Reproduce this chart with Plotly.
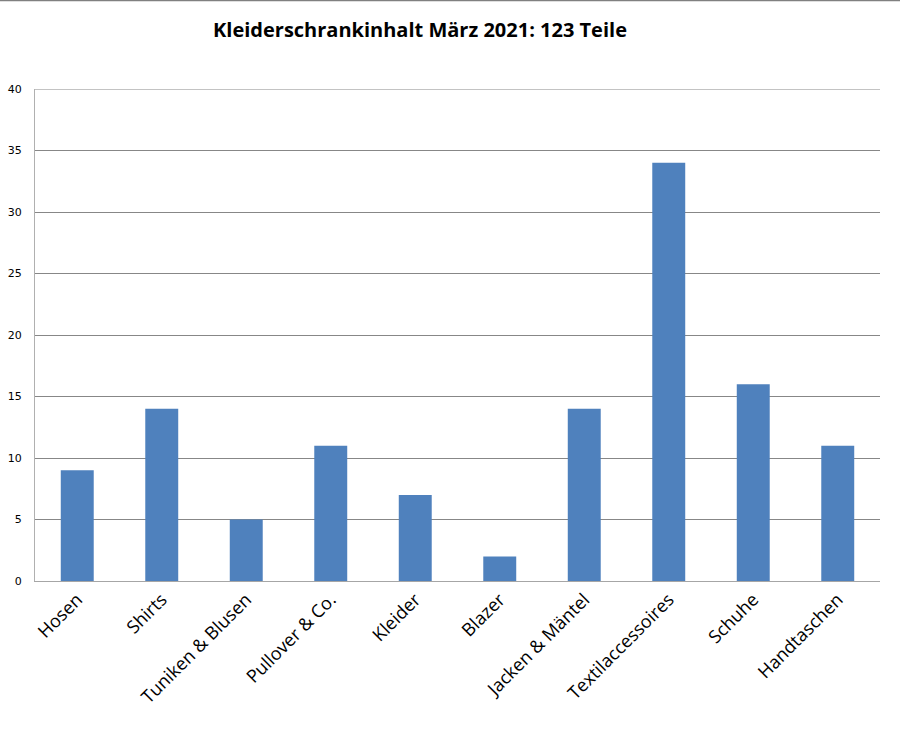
import plotly.graph_objects as go

categories = ["Hosen", "Shirts", "Tuniken & Blusen", "Pullover & Co.", "Kleider",
              "Blazer", "Jacken & Mäntel", "Textilaccessoires", "Schuhe", "Handtaschen"]
values = [9, 14, 5, 11, 7, 2, 14, 34, 16, 11]
y_ticks = [0, 5, 10, 15, 20, 25, 30, 35, 40]
y_max = 40

fig = go.Figure(go.Bar(x=categories, y=values, marker=dict(color="#4F81BD", line=dict(width=0))))

ml, mr, mt, mb = 35, 20, 89, 149
ph = 730 - mt - mb
pw = 900 - ml - mr

fig.update_layout(
    width=900, height=730,
    margin=dict(l=ml, r=mr, t=mt, b=mb),
    paper_bgcolor="white", plot_bgcolor="white",
    bargap=0.61,
    showlegend=False,
    title=dict(text="<b>Kleiderschrankinhalt März 2021: 123 Teile</b>",
               x=420/900, xanchor="center", y=1-30/730, yanchor="middle",
               font=dict(family="Open Sans", size=20, color="black")),
    xaxis=dict(tickangle=-45, tickfont=dict(family="Open Sans", size=18, color="black"),
               showline=True, linecolor="#a6a6a6", linewidth=1, showgrid=False,
               ticks="", automargin=False),
    yaxis=dict(range=[0, y_max], tickvals=y_ticks, showgrid=True, gridcolor="#878787",
               gridwidth=1, showline=True, linecolor="#b0b0b0", linewidth=1,
               tickfont=dict(family="DejaVu Sans", size=11, color="black"),
               ticks="", ticklabelstandoff=10, zeroline=False, automargin=False),
    shapes=[
        dict(type="line", xref="paper", yref="paper", x0=-ml/pw, x1=1+mr/pw,
             y0=1+(mt-0.5)/ph, y1=1+(mt-0.5)/ph, line=dict(color="#808080", width=1.5)),
        dict(type="line", xref="paper", yref="y", x0=0, x1=1, y0=y_max, y1=y_max,
             line=dict(color="#878787", width=1), layer="below"),
    ],
)

fig.write_html("out.html")
